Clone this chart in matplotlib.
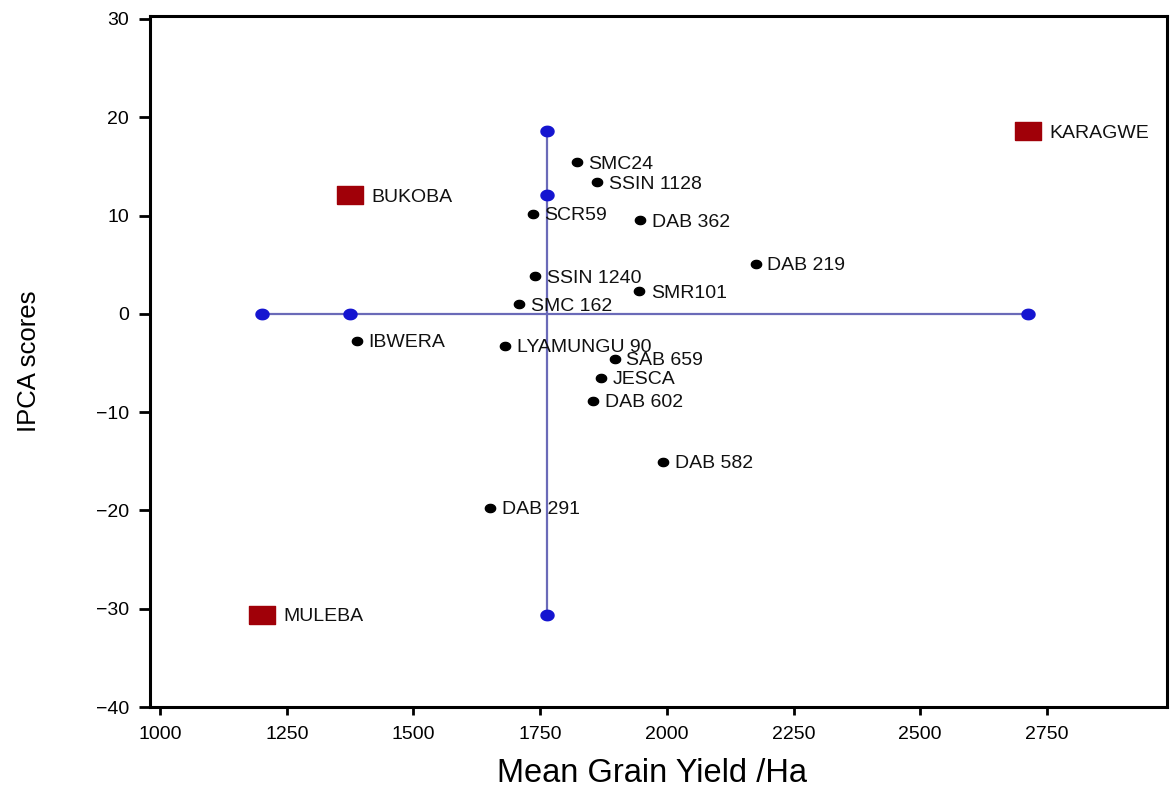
import matplotlib
matplotlib.use("Agg")
import numpy as np
import matplotlib.pyplot as plt
from matplotlib.path import Path

plt.rcParams['font.family'] = ['Liberation Sans', 'DejaVu Sans']

# Genotypes (black dots)
genotypes = ["SMC24", "SSIN 1128", "SCR59", "DAB 362", "DAB 219", "SSIN 1240",
             "SMR101", "SMC 162", "IBWERA", "LYAMUNGU 90", "SAB 659", "JESCA",
             "DAB 602", "DAB 582", "DAB 291"]
geno_yield = [1822, 1862, 1735, 1947, 2175, 1740, 1946, 1708, 1388, 1681,
              1897, 1870, 1855, 1992, 1651]
geno_ipca = [15.4, 13.4, 10.2, 9.5, 5.1, 3.8, 2.3, 0.96, -2.76, -3.27,
             -4.55, -6.5, -8.85, -15.05, -19.75]

# Environments (red squares)
environments = ["KARAGWE", "BUKOBA", "MULEBA"]
env_yield = [2713, 1375, 1201]
env_ipca = [18.6, 12.05, -30.6]

grand_mean = 1763

xticks = [1000, 1250, 1500, 1750, 2000, 2250, 2500, 2750]
yticks = [-40, -30, -20, -10, 0, 10, 20, 30]

# slightly wide elliptical dot marker (the reference is stretched horizontally)
t = np.linspace(0, 2 * np.pi, 40)
ellipse = Path(np.column_stack([np.cos(t), 0.8 * np.sin(t)]), closed=True)
rect = [(-1.0, -0.69), (1.0, -0.69), (1.0, 0.69), (-1.0, 0.69), (-1.0, -0.69)]

fig = plt.figure(figsize=(11.73, 7.88), dpi=100)
ax = fig.add_axes([150/1173, 1-707/788, (1167-150)/1173, (707-16)/788])
ax.set_xlim(980, 2987)
ax.set_ylim(-40, 30.3)

blue_line = '#6a6ab8'
blue_dot = '#1515d0'
# horizontal line at IPCA = 0 through environment yields
ax.plot([min(env_yield), max(env_yield)], [0, 0], color=blue_line, lw=1.6, zorder=1)
ax.plot(env_yield, [0]*len(env_yield), linestyle='none', marker=ellipse,
        color=blue_dot, ms=9.4, zorder=3)
# vertical line at grand mean through environment IPCA scores
ax.plot([grand_mean, grand_mean], [min(env_ipca), max(env_ipca)], color=blue_line, lw=1.6, zorder=1)
ax.plot([grand_mean]*len(env_ipca), env_ipca, linestyle='none', marker=ellipse,
        color=blue_dot, ms=9.4, zorder=3)

# genotypes
ax.plot(geno_yield, geno_ipca, linestyle='none', marker=ellipse, color='black',
        ms=7.4, zorder=4)
for name, x, y in zip(genotypes, geno_yield, geno_ipca):
    ax.annotate(name, (x, y), xytext=(8.5, 0), textcoords='offset points',
                va='center_baseline', ha='left', fontsize=14, color='#111111', zorder=5)

# environments
ax.plot(env_yield, env_ipca, linestyle='none', marker=rect, color='#a00008',
        ms=18.7, zorder=4)
for name, x, y in zip(environments, env_yield, env_ipca):
    ax.annotate(name, (x, y), xytext=(15.5, 0), textcoords='offset points',
                va='center_baseline', ha='left', fontsize=14, color='#111111', zorder=5,
                annotation_clip=False)

ax.set_xticks(xticks)
ax.set_yticks(yticks)
ax.tick_params(axis='x', direction='out', length=5.5, width=2.0, labelsize=14, pad=8, colors='black')
ax.tick_params(axis='y', direction='out', length=8, width=2.0, labelsize=14, pad=7, colors='black')
for s in ax.spines.values():
    s.set_linewidth(2.2)
    s.set_color('black')

fig.text(652/1173, 1-774/788, "Mean Grain Yield /Ha", ha='center', va='center', fontsize=23.5)
fig.text(29/1173, 1-361/788, "IPCA scores", ha='center', va='center', fontsize=18.5, rotation=90)

fig.savefig("out.png", dpi=100)
